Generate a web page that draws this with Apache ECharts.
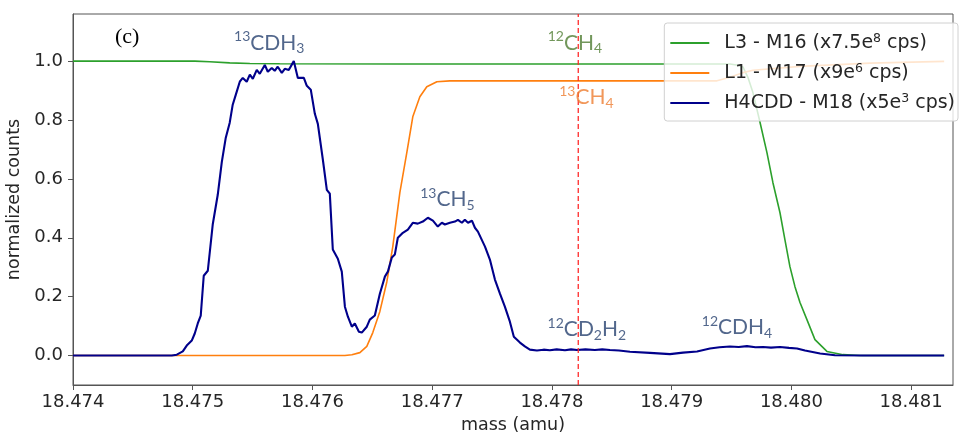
<!DOCTYPE html>
<html><head><meta charset="utf-8">
<script src="https://cdn.jsdelivr.net/npm/echarts@6/dist/echarts.min.js"></script>
<style>html,body{margin:0;padding:0;background:#fff}#c{width:960px;height:437px}</style>
</head><body><div id="c"></div>
<script>
const xTicks = [18.474, 18.475, 18.476, 18.477, 18.478, 18.479, 18.480, 18.481];
const yTicks = [0, 0.2, 0.4, 0.6, 0.8, 1.0];
const seriesNames = ['L3 - M16', 'L1 - M17', 'H4CDD - M18'];
const legendTexts = ['L3 - M16 (x7.5e{sup|8} cps)', 'L1 - M17 (x9e{sup|6} cps)', 'H4CDD - M18 (x5e{sup|3} cps)'];
const refMass = 18.47822;
const refLineSpan = [-0.1, 1.16];

// [mass (amu), normalized counts]
const greenM16 = [
  [18.474000, 1.000], [18.475017, 1.000], [18.475142, 0.998], [18.475309, 0.994], [18.475477, 0.992],
  [18.475727, 0.991], [18.476730, 0.990], [18.478401, 0.990], [18.479487, 0.990], [18.479554, 0.986],
  [18.479596, 0.980], [18.479637, 0.945], [18.479679, 0.893], [18.479737, 0.794], [18.479796, 0.689],
  [18.479846, 0.587], [18.479905, 0.485], [18.479946, 0.394], [18.479988, 0.302], [18.480030, 0.234],
  [18.480072, 0.180], [18.480130, 0.122], [18.480197, 0.054], [18.480297, 0.014], [18.480431, 0.003],
  [18.480573, 0.000], [18.481276, 0.000]
];
const orangeM17 = [
  [18.474000, 0.000], [18.476271, 0.000], [18.476329, 0.003], [18.476396, 0.010], [18.476454, 0.031],
  [18.476504, 0.078], [18.476563, 0.150], [18.476621, 0.250], [18.476671, 0.370], [18.476730, 0.553],
  [18.476788, 0.689], [18.476838, 0.811], [18.476897, 0.879], [18.476955, 0.913], [18.477039, 0.930],
  [18.477148, 0.933], [18.479379, 0.933], [18.479487, 0.945], [18.479588, 0.960], [18.479679, 0.969],
  [18.480072, 0.982], [18.480657, 0.993], [18.481276, 0.999]
];
const blueM18 = [
  [18.474000, 0.000], [18.474500, 0.000], [18.474825, 0.000], [18.474867, 0.003], [18.474917, 0.014],
  [18.474950, 0.034], [18.474992, 0.051], [18.475017, 0.075], [18.475042, 0.109], [18.475067, 0.136],
  [18.475092, 0.271], [18.475126, 0.288], [18.475167, 0.445], [18.475209, 0.546], [18.475243, 0.658],
  [18.475276, 0.740], [18.475309, 0.791], [18.475334, 0.852], [18.475360, 0.886], [18.475393, 0.930],
  [18.475418, 0.943], [18.475451, 0.930], [18.475477, 0.954], [18.475502, 0.940], [18.475535, 0.970],
  [18.475560, 0.957], [18.475602, 0.987], [18.475627, 0.964], [18.475660, 0.977], [18.475685, 0.967],
  [18.475710, 0.981], [18.475744, 0.960], [18.475769, 0.974], [18.475802, 0.970], [18.475844, 1.000],
  [18.475878, 0.943], [18.475928, 0.943], [18.475953, 0.916], [18.475986, 0.903], [18.476020, 0.821],
  [18.476045, 0.787], [18.476087, 0.665], [18.476120, 0.563], [18.476145, 0.550], [18.476170, 0.360],
  [18.476212, 0.329], [18.476245, 0.285], [18.476271, 0.166], [18.476296, 0.132], [18.476329, 0.098],
  [18.476354, 0.109], [18.476388, 0.081], [18.476412, 0.078], [18.476454, 0.098], [18.476479, 0.122],
  [18.476521, 0.136], [18.476563, 0.210], [18.476605, 0.268], [18.476630, 0.285], [18.476663, 0.333],
  [18.476688, 0.343], [18.476713, 0.400], [18.476755, 0.417], [18.476797, 0.428], [18.476838, 0.451],
  [18.476880, 0.448], [18.476922, 0.455], [18.476964, 0.468], [18.477006, 0.458], [18.477047, 0.438],
  [18.477081, 0.451], [18.477106, 0.445], [18.477148, 0.451], [18.477190, 0.455], [18.477215, 0.461],
  [18.477248, 0.451], [18.477273, 0.461], [18.477299, 0.451], [18.477332, 0.458], [18.477357, 0.434],
  [18.477382, 0.421], [18.477441, 0.370], [18.477482, 0.326], [18.477524, 0.258], [18.477566, 0.210],
  [18.477607, 0.166], [18.477649, 0.115], [18.477682, 0.064], [18.477733, 0.044], [18.477774, 0.031],
  [18.477816, 0.020], [18.477875, 0.017], [18.477930, 0.020], [18.477983, 0.018], [18.478040, 0.021],
  [18.478109, 0.018], [18.478160, 0.021], [18.478209, 0.019], [18.478280, 0.021], [18.478359, 0.019],
  [18.478420, 0.021], [18.478485, 0.019], [18.478560, 0.017], [18.478652, 0.013], [18.478819, 0.009],
  [18.478986, 0.005], [18.479095, 0.010], [18.479212, 0.014], [18.479320, 0.024], [18.479400, 0.028],
  [18.479487, 0.031], [18.479560, 0.029], [18.479629, 0.032], [18.479700, 0.028], [18.479763, 0.029],
  [18.479830, 0.027], [18.479905, 0.029], [18.479980, 0.026], [18.480047, 0.024], [18.480114, 0.017],
  [18.480240, 0.007], [18.480365, 0.001], [18.480600, 0.000], [18.481000, 0.000], [18.481276, 0.000]
];

// annotation labels: [mass, value, rich text, colour]
const annotations = [
  [18.475639, 1.062, '{sup|13}{m|CDH}{sub|3}', '#27416f'],
  [18.478192, 1.062, '{sup|12}{m|CH}{sub|4}', '#4f7d32'],
  [18.478288, 0.876, '{sup|13}{m|CH}{sub|4}', '#ed7d31'],
  [18.477127, 0.530, '{sup|13}{m|CH}{sub|5}', '#27416f'],
  [18.478292, 0.090, '{sup|12}{m|CD}{sub|2}{m|H}{sub|2}', '#27416f'],
  [18.479546, 0.096, '{sup|12}{m|CDH}{sub|4}', '#27416f']
];

const chart = echarts.init(document.getElementById('c'), null, {renderer: 'canvas'});
const axisColor = '#555555';
const tickFont = {fontFamily: 'DejaVu Sans', fontSize: 18, color: '#262626'};

const option = {
  animation: false,
  backgroundColor: '#ffffff',
  grid: {left: 73, right: 7, top: 14, bottom: 52, outerBoundsMode: 'none', containLabel: false,
    show: true, borderColor: axisColor, borderWidth: 1, backgroundColor: 'transparent'},
  xAxis: {
    type: 'value', min: 18.474, max: 18.48135,
    name: 'mass (amu)', nameLocation: 'middle', nameGap: 31,
    nameTextStyle: {fontFamily: 'DejaVu Sans', fontSize: 17.5, color: '#262626'},
    axisLine: {show: true, onZero: false, lineStyle: {color: axisColor, width: 1}},
    axisTick: {show: true, length: 5, inside: false, customValues: xTicks, lineStyle: {color: axisColor}},
    axisLabel: Object.assign({margin: 8, customValues: xTicks, formatter: v => v.toFixed(3)}, tickFont),
    splitLine: {show: false}
  },
  yAxis: {
    type: 'value', min: -0.1, max: 1.16,
    name: 'normalized counts', nameLocation: 'middle', nameGap: 38,
    nameTextStyle: {fontFamily: 'DejaVu Sans', fontSize: 17.5, color: '#262626'},
    axisLine: {show: true, onZero: false, lineStyle: {color: axisColor, width: 1}},
    axisTick: {show: true, length: 5, inside: false, customValues: yTicks, lineStyle: {color: axisColor}},
    axisLabel: Object.assign({margin: 10, customValues: yTicks, formatter: v => v.toFixed(1)}, tickFont),
    splitLine: {show: false}
  },
  legend: {
    orient: 'vertical', right: 2, top: 23,
    data: seriesNames,
    icon: 'rect', itemWidth: 39, itemHeight: 2, itemGap: 8,
    padding: [9, 3, 7, 6],
    backgroundColor: 'rgba(255,255,255,0.8)',
    borderColor: '#d0d0d0', borderWidth: 1, borderRadius: 3,
    formatter: name => legendTexts[seriesNames.indexOf(name)],
    textStyle: {
      fontFamily: 'DejaVu Sans', fontSize: 19, color: '#262626', lineHeight: 22, padding: [0, 0, 0, 10],
      rich: {sup: {fontFamily: 'DejaVu Sans', fontSize: 12.5, lineHeight: 14, verticalAlign: 'top', color: '#262626'}}
    }
  },
  graphic: [{
    type: 'text', left: 115, top: 26, z: 100,
    style: {text: '(c)', font: '22px "Liberation Serif"', fill: '#000000'}
  }],
  series: [
    {name: seriesNames[0], type: 'line', data: greenM16, showSymbol: false, symbol: 'none', z: 2,
     lineStyle: {color: '#2ca02c', width: 1.6}, itemStyle: {color: '#2ca02c'}},
    {name: seriesNames[1], type: 'line', data: orangeM17, showSymbol: false, symbol: 'none', z: 3,
     lineStyle: {color: '#ff7f0e', width: 1.6}, itemStyle: {color: '#ff7f0e'}},
    {name: seriesNames[2], type: 'line', data: blueM18, showSymbol: false, symbol: 'none', z: 4,
     lineStyle: {color: '#00008b', width: 2.1}, itemStyle: {color: '#00008b'}},
    {name: 'reference', type: 'line', data: refLineSpan.map(v => [refMass, v]), showSymbol: false, symbol: 'none', z: 5,
     silent: true, lineStyle: {color: '#ff2a2a', type: [5, 3], width: 1.3}, itemStyle: {color: '#ff2a2a'}},
    {name: 'labels', type: 'scatter', symbolSize: 0, silent: true, z: 10,
     data: annotations.map(a => ({value: [a[0], a[1]], label: {formatter: a[2], color: a[3]}})),
     label: {show: true, position: 'inside',
       fontFamily: 'Lato',
       rich: {
         m: {fontFamily: 'Lato', fontSize: 21, lineHeight: 26},
         sup: {fontFamily: 'Lato', fontSize: 14, lineHeight: 14, verticalAlign: 'top'},
         sub: {fontFamily: 'Lato', fontSize: 14, lineHeight: 14, verticalAlign: 'bottom'}
       }}}
  ]
};
chart.setOption(option);
</script></body></html>
